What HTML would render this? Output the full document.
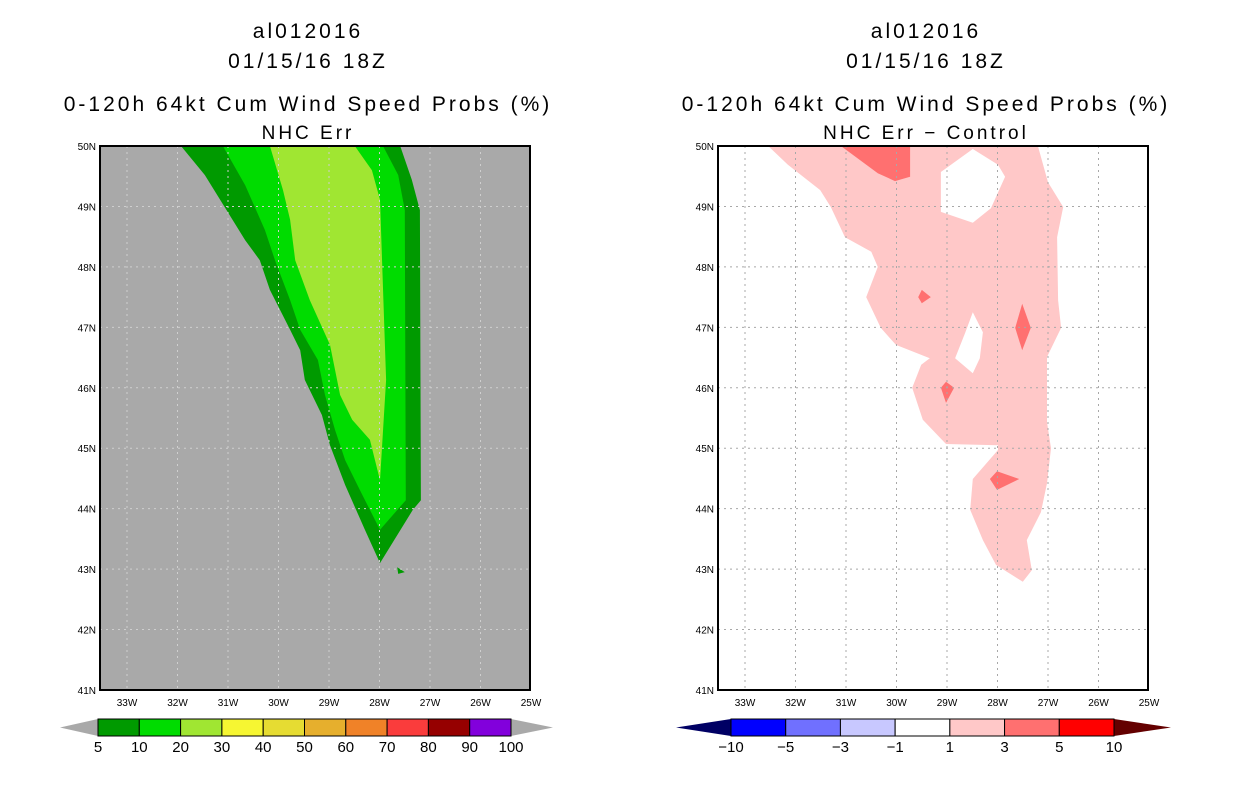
<!DOCTYPE html>
<html><head><meta charset="utf-8"><style>
body{margin:0;background:#fff;width:1236px;height:800px;overflow:hidden;font-family:"Liberation Sans",sans-serif}
</style></head><body>
<svg id="svg" width="1236" height="800" xmlns="http://www.w3.org/2000/svg"></svg>
<script>
// ---- data ----
const lonTicks=[33,32,31,30,29,28,27,26,25];
const latTicks=[41,42,43,44,45,46,47,48,49,50];
const probLevels=["5","10","20","30","40","50","60","70","80","90","100"];
const probColors=["#009a00","#00dc00","#a0e632","#f6f632","#e6dc32","#e6af2d","#f08228","#fa3c3c","#960000","#8200dc"];
const diffLevels=["-10","-5","-3","-1","1","3","5","10"];
const diffColors=["#0000ff","#7070ff","#c8c8ff","#ffffff","#ffc8c8","#ff7070","#ff0000"];
// left contours [lonW, lat]
const green5=[[31.93,50],[27.59,50],[27.36,49.44],[27.2,48.94],[27.18,44.14],[27.34,43.98],[27.99,43.1],[28.29,43.65],[28.68,44.39],[28.98,45.05],[29.14,45.55],[29.48,46.13],[29.57,46.62],[29.77,46.96],[30.17,47.62],[30.37,48.11],[30.66,48.44],[31.46,49.52]];
const green10=[[31.1,50],[27.93,50],[27.63,49.52],[27.5,48.94],[27.48,44.14],[27.99,43.65],[28.39,44.31],[28.68,44.8],[28.88,45.3],[29.08,45.88],[29.22,46.46],[29.57,46.96],[29.77,47.45],[30.07,48.11],[30.27,48.61],[30.66,49.35]];
const green20=[[30.17,50],[28.49,50],[28.15,49.6],[27.99,49.11],[27.87,46.13],[27.99,44.47],[28.19,45.14],[28.54,45.47],[28.78,45.88],[28.98,46.71],[29.38,47.45],[29.67,48.11],[29.77,48.78],[29.91,49.27]];
const speck=[[27.65,43.03],[27.5,42.95],[27.63,42.92]];
// right contours
const pink1=[[32.54,50],[32.15,49.69],[31.51,49.27],[31.3,48.99],[31.02,48.49],[30.5,48.25],[30.37,48],[30.6,47.5],[30.31,46.99],[30.01,46.71],[29.34,46.49],[29.51,46.38],[29.69,46],[29.48,45.47],[29.02,45.07],[27.99,45.05],[27.99,44.97],[28.49,44.49],[28.54,43.98],[28.29,43.48],[28.03,43.07],[27.5,42.79],[27.32,42.98],[27.42,43.48],[27.14,43.94],[27.02,44.42],[26.94,45],[27.02,45.43],[27.02,46.51],[26.74,46.99],[26.8,47.45],[26.82,48.49],[26.7,48.99],[27,49.4],[27.2,50]];
const hole1=[[28.49,49.95],[27.99,49.69],[27.85,49.49],[28.13,48.97],[28.49,48.73],[29.12,48.91],[29.12,49.57]];
const hole2=[[28.49,47.25],[28.29,46.92],[28.35,46.49],[28.49,46.24],[28.84,46.49],[28.64,46.91]];
const pink3=[
 [[31.1,50],[29.73,50],[29.73,49.49],[30.03,49.42],[30.37,49.55]],
 [[29.57,47.5],[29.5,47.62],[29.32,47.5],[29.5,47.4]],
 [[27.51,47.39],[27.34,46.99],[27.51,46.62],[27.65,46.99]],
 [[29.02,46.1],[28.86,46],[29.02,45.75],[29.12,46]],
 [[28.01,44.62],[27.57,44.49],[28.01,44.31],[28.15,44.49]]];

const NS="http://www.w3.org/2000/svg";
const svg=document.getElementById('svg');
function mk(t,a,p){const e=document.createElementNS(NS,t);for(const k in a)e.setAttribute(k,a[k]);(p||svg).appendChild(e);return e;}
const Y0=146,Y1=690;
function yS(lat){return Y1-(lat-41)/9*(Y1-Y0);}
function xS(x0){return lon=>x0+27+(33-lon)*50.5;}
function pts(arr,xf){return arr.map(p=>xf(p[0]).toFixed(1)+','+yS(p[1]).toFixed(1)).join(' ');}

function panel(x0,bg,name,lines){
  const xf=xS(x0);
  const g=mk('g',{});
  
  
  const cx=x0+208;
  lines.forEach((t,i)=>{const e=mk('text',{x:cx,y:[38,68,111,139][i],'text-anchor':'middle','font-size':i==3?19:21,'letter-spacing':'3px',fill:'#000'},g);e.textContent=t;
    });
  const r=mk('rect',{x:x0,y:Y0,width:430,height:544,fill:bg},g);
  
  return {g,xf};
}
function grid(P,x0,col){
  const gg=mk('g',{},P.g);
  
  lonTicks.slice(0,8).forEach(l=>mk('line',{x1:P.xf(l),x2:P.xf(l),y1:Y0,y2:Y1,stroke:col,'stroke-dasharray':'2,4'},gg));
  latTicks.slice(1,9).forEach(l=>mk('line',{x1:x0,x2:x0+430,y1:yS(l),y2:yS(l),stroke:col,'stroke-dasharray':'2,4'},gg));
}
function frame(P,x0){
  const f=mk('rect',{x:x0,y:Y0,width:430,height:544,fill:'none',stroke:'#000','stroke-width':2},P.g);
  
  lonTicks.forEach(l=>{const t=mk('text',{x:P.xf(l),y:706,'text-anchor':'middle','font-size':10},P.g);t.textContent=l+'W';
    });
  latTicks.forEach(l=>{const t=mk('text',{x:x0-4,y:yS(l)+4,'text-anchor':'end','font-size':10},P.g);t.textContent=l+'N';
    });
}
function poly(P,arr,fill,name,extra){
  let d='M'+pts(arr,P.xf).replace(/ /g,' L')+' Z';
  (extra||[]).forEach(h=>{d+=' M'+pts(h,P.xf).replace(/ /g,' L')+' Z';});
  const e=mk('path',{d,fill,'fill-rule':'evenodd'},P.g);
  
}
function colorbar(x,w,n,y,colors,labels,lc,rc,name,lx0,rx1){
  const g=mk('g',{});
  
  const bw=w/n,h=17;
  const l=mk('polygon',{points:`${lx0},${y+h/2} ${x},${y} ${x},${y+h}`,fill:lc},g);
  
  const r=mk('polygon',{points:`${rx1},${y+h/2} ${x+w},${y} ${x+w},${y+h}`,fill:rc},g);
  
  colors.forEach((c,i)=>{const b=mk('rect',{x:x+i*bw,y,width:bw,height:h,fill:c,stroke:'#000','stroke-width':1},g);
    });
  labels.forEach((t,i)=>{const e=mk('text',{x:x+i*bw,y:y+h+16,'text-anchor':'middle','font-size':15},g);e.textContent=t.replace('-','\u2212');
    });
}
const L=panel(100,'#a9a9a9','left-panel',['al012016','01/15/16 18Z','0-120h 64kt Cum Wind Speed Probs (%)','NHC Err']);
poly(L,green5,probColors[0],'contour-5-10');
poly(L,green10,probColors[1],'contour-10-20');
poly(L,green20,probColors[2],'contour-20-30');
poly(L,speck,probColors[0],'contour-speck');
grid(L,100,'#cfcfcf');frame(L,100);
const R=panel(718,'#fff','right-panel',['al012016','01/15/16 18Z','0-120h 64kt Cum Wind Speed Probs (%)','NHC Err \u2212 Control']);
poly(R,pink1,diffColors[4],'contour-diff-1-3',[hole1,hole2]);
pink3.forEach(p=>poly(R,p,diffColors[5],'contour-diff-3-5'));
grid(R,718,'#a8a8a8');frame(R,718);
colorbar(98,413,10,719,probColors,probLevels,'#a9a9a9','#a9a9a9','prob-colorbar',60,553);
colorbar(731,383,7,719,diffColors,diffLevels,'#000064','#640000','diff-colorbar',676,1171);
</script>
</body></html>
